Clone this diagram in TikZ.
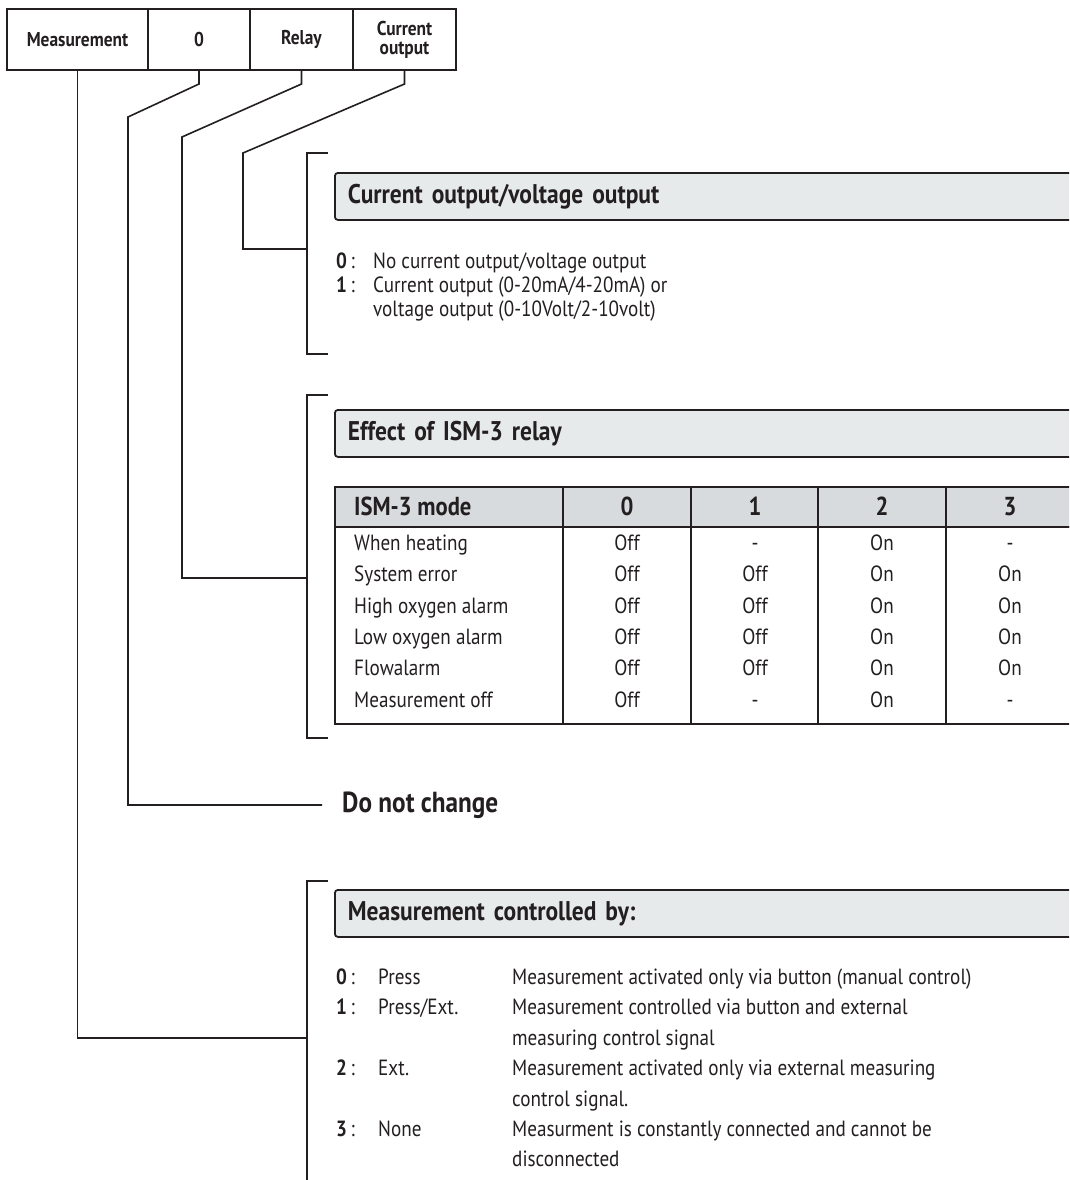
\documentclass[tikz,border=0pt]{standalone}
\usepackage{fontspec}
\setmainfont{PT Sans}[FakeStretch=0.87]
\usetikzlibrary{positioning}
\definecolor{ink}{HTML}{231F20}
\definecolor{barfill}{HTML}{E7EAEB}
\definecolor{headfill}{HTML}{D8DBDD}
\begin{document}
\begin{tikzpicture}[x=1pt,y=-1pt]
\tikzstyle{wire} = [draw=ink, line width=1.6pt]
\tikzstyle{hbox} = [draw=ink, line width=1.4pt, minimum height=61pt, outer sep=0pt, inner sep=0pt, align=center, text=ink, font=\fontsize{20}{19}\selectfont\bfseries]
\tikzstyle{bar} = [draw=ink, line width=1.8pt, fill=barfill, rounded corners=3pt, anchor=north west, minimum height=47pt, text width=720pt, inner xsep=13pt, align=left, text=ink, font=\fontsize{27}{29}\selectfont\bfseries]
\tikzstyle{item} = [anchor=west, inner sep=0pt, text=ink, text height=15pt, text depth=4pt, font=\fontsize{22}{24}\selectfont]
\tikzstyle{cell} = [item, anchor=center]
\tikzstyle{tbl} = [draw=ink, line width=1.6pt]

\clip (0,0) rectangle (1069,1180);

% code boxes on top
\node[hbox, minimum width=141pt] (hMeas) at (77.5,39.5) {Measurement};
\node[hbox, minimum width=102pt, right=0pt of hMeas] (hZero) {0};
\node[hbox, minimum width=103pt, right=0pt of hZero] (hRelay) {Relay};
\node[hbox, minimum width=103pt, right=0pt of hRelay] (hCurr) {Current\\output};

% brackets
\draw[wire] (328,153) -- (307,153) -- (307,354) -- (328,354);
\draw[wire] (328,395) -- (307,395) -- (307,738) -- (328,738);
\draw[wire] (328,881) -- (307,881) -- (307,1190);
\coordinate (brCurr) at (307,249);
\coordinate (brRelay) at (307,578);
\coordinate (brMeas) at (307,1038);

% current output
\node[bar] (barCurr) at (334,172) {Current output/voltage output};
\node[item] (c0) at (336,263) {\textbf{0}\,:};
\node[item] (c0t) at (373,263) {No current output/voltage output};
\node[item] (c1) at (336,287) {\textbf{1}\,:};
\node[item] (c1t) at (373,287) {Current output (0-20mA/4-20mA) or};
\node[item] (c1u) at (373,311) {voltage output (0-10Volt/2-10volt)};

% relay
\node[bar] (barRelay) at (334,409) {Effect of ISM-3 relay};
\draw[tbl, fill=headfill] (335,487) rectangle (1080,527);
\draw[tbl] (335,527) rectangle (1080,724);
\foreach \x in {563,691,818,946}
  \draw[tbl] (\x,487) -- (\x,724);
\node[item, font=\fontsize{26}{28}\selectfont\bfseries] (tHead) at (354,510) {ISM-3 mode};
\foreach \c [count=\i from 0] in {627,755,882,1010}
  \node[cell, font=\fontsize{26}{28}\selectfont\bfseries] (tCol\i) at (\c,510) {\i};
\foreach \lab/\a/\b/\c/\d [count=\r from 0] in {When heating/Off/-/On/-, System error/Off/Off/On/On, High oxygen alarm/Off/Off/On/On, Low oxygen alarm/Off/Off/On/On, Flowalarm/Off/Off/On/On, Measurement off/Off/-/On/-}
{
  \node[item] (tRow\r) at (354,{545+31.3*\r}) {\lab};
  \node[cell] at (627,{545+31.3*\r}) {\a};
  \node[cell] at (755,{545+31.3*\r}) {\b};
  \node[cell] at (882,{545+31.3*\r}) {\c};
  \node[cell] at (1010,{545+31.3*\r}) {\d};
}

% do not change
\node[item, font=\fontsize{29}{31}\selectfont\bfseries, text height=20pt, text depth=6pt] (keep) at (342,805) {Do not change};

% measurement
\node[bar] (barMeas) at (334,889) {Measurement controlled by:};
\foreach \k/\lab/\txt [count=\r from 0] in {0/Press/Measurement activated only via button (manual control), 1/Press\slash Ext./Measurement controlled via button and external, /{}/measuring control signal, 2/Ext./Measurement activated only via external measuring, /{}/control signal., 3/None/Measurment is constantly connected and cannot be, /{}/disconnected}
{
  \node[item] (m\r) at (336,{979+30.4*\r}) {\ifx\k\empty\else\textbf{\k}\,:\fi};
  \node[item] (mLab\r) at (378,{979+30.4*\r}) {\lab};
  \node[item] (mTxt\r) at (512,{979+30.4*\r}) {\txt};
}

% connectors
\draw[wire] (hMeas.south) |- (brMeas);
\draw[wire] (hZero.south) -- ++(0,14) -- (128,117) |- ([xshift=-20pt]keep.west);
\draw[wire] (hRelay.south) -- ++(0,14) -- (182,137) |- (brRelay);
\draw[wire] (hCurr.south) -- ++(0,14) -- (243,153) |- (brCurr);
\end{tikzpicture}
\end{document}
